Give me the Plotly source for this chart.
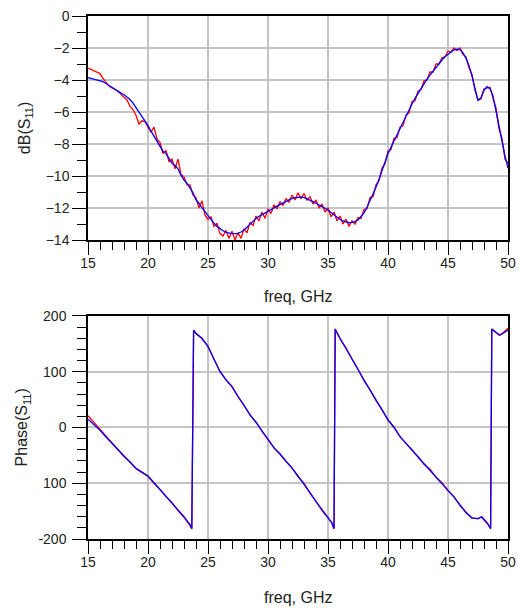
import plotly.graph_objects as go

# ---------------- data ----------------
freq_db = [15 + 0.25 * i for i in range(141)]

db_sim = [
    -3.85, -3.90, -3.95, -4.00, -4.05, -4.10, -4.22, -4.35, -4.48, -4.60,
    -4.72, -4.82, -4.92, -5.05, -5.22, -5.45, -5.72, -6.00, -6.28, -6.55,
    -6.85, -7.20, -7.50, -7.80, -8.15, -8.45, -8.60, -8.90, -9.20, -9.35,
    -9.55, -9.95, -10.25, -10.45, -10.75, -11.05, -11.50, -11.70, -12.00, -12.25,
    -12.50, -12.75, -12.95, -13.15, -13.30, -13.42, -13.52, -13.58, -13.60, -13.60,
    -13.58, -13.50, -13.38, -13.20, -13.00, -12.80, -12.65, -12.52, -12.42, -12.35,
    -12.25, -12.12, -12.00, -11.88, -11.78, -11.68, -11.55, -11.45, -11.40, -11.35,
    -11.32, -11.32, -11.35, -11.42, -11.50, -11.60, -11.70, -11.80, -11.92, -12.02,
    -12.12, -12.28, -12.42, -12.58, -12.72, -12.80, -12.88, -12.92, -12.90, -12.85,
    -12.75, -12.55, -12.30, -11.95, -11.55, -11.15, -10.70, -10.20, -9.65, -9.10,
    -8.60, -8.20, -7.80, -7.45, -7.10, -6.70, -6.30, -5.90, -5.50, -5.15,
    -4.85, -4.50, -4.22, -3.95, -3.70, -3.45, -3.20, -3.00, -2.75, -2.55,
    -2.38, -2.25, -2.12, -2.08, -2.10, -2.30, -2.65, -3.10, -3.75, -4.50,
    -5.30, -5.10, -4.65, -4.42, -4.55, -5.00, -6.00, -6.90, -7.85, -8.75,
    -9.50,
]

db_meas = [
    -3.25, -3.35, -3.42, -3.50, -3.60, -3.90, -4.15, -4.38, -4.50, -4.62,
    -4.70, -4.90, -5.10, -5.25, -5.65, -5.85, -6.20, -6.75, -6.55, -6.60,
    -6.95, -7.25, -6.95, -7.70, -7.90, -8.60, -8.40, -9.10, -8.95, -9.55,
    -8.95, -9.90, -10.05, -10.55, -10.55, -11.20, -11.35, -12.00, -11.55, -12.45,
    -12.70, -12.55, -13.15, -12.95, -13.60, -13.75, -13.40, -13.90, -13.45, -14.00,
    -13.55, -13.90, -13.30, -13.55, -12.90, -13.10, -12.50, -12.80, -12.25, -12.65,
    -12.05, -12.35, -11.80, -12.05, -11.60, -11.85, -11.40, -11.65, -11.20, -11.50,
    -11.05, -11.40, -11.10, -11.50, -11.30, -11.75, -11.50, -12.00, -11.75, -12.25,
    -12.00, -12.55, -12.25, -12.80, -12.50, -13.00, -12.70, -13.15, -12.80, -13.00,
    -12.60, -12.65, -12.10, -12.05, -11.35, -11.30, -10.55, -10.30, -9.50, -9.25,
    -8.45, -8.35, -7.65, -7.60, -6.95, -6.85, -6.20, -6.05, -5.35, -5.30,
    -4.70, -4.60, -4.05, -4.00, -3.50, -3.50, -3.00, -3.00, -2.60, -2.55,
    -2.20, -2.25, -2.00, -2.15, -2.00, -2.40, -2.55, -3.25, -3.65, -4.65,
    -5.20, -5.20, -4.55, -4.50, -4.45, -5.15, -5.75, -7.05, -7.65, -8.95,
    -9.20,
]

freq_ph = [
    15.0, 15.5, 16.0, 16.5, 17.0, 17.5, 18.0, 18.5, 19.0, 19.5,
    20.0, 20.5, 21.0, 21.5, 22.0, 22.5, 23.0, 23.5, 23.65, 23.8,
    24.0, 24.5, 25.0, 25.5, 26.0, 26.5, 27.0, 27.5, 28.0, 28.5,
    29.0, 29.5, 30.0, 30.5, 31.0, 31.5, 32.0, 32.5, 33.0, 33.5,
    34.0, 34.5, 35.0, 35.3, 35.5, 35.6, 36.0, 36.5, 37.0, 37.5,
    38.0, 38.5, 39.0, 39.5, 40.0, 40.5, 41.0, 41.5, 42.0, 42.5,
    43.0, 43.5, 44.0, 44.5, 45.0, 45.5, 46.0, 46.5, 47.0, 47.5,
    47.8, 48.0, 48.3, 48.55, 48.65, 49.0, 49.3, 49.6, 50.0,
]

ph_sim = [
    15, 5, -5, -17, -29, -40, -51, -62, -73, -80,
    -87, -99, -111, -123, -136, -148, -160, -174, -181, 174,
    169, 160, 145, 123, 100, 86, 73, 56, 39, 23,
    9, -6, -22, -36, -48, -60, -73, -87, -101, -117,
    -133, -148, -163, -170, -181, 176, 160, 142, 124, 104,
    85, 67, 49, 31, 14, 0, -16, -29, -40, -53,
    -65, -76, -88, -100, -112, -125, -139, -153, -162, -164,
    -160, -165, -172, -181, 176, 171, 166, 169, 175,
]

ph_meas = [
    21, 9, -3, -16, -29, -41, -52, -62, -74, -81,
    -88, -100, -111, -124, -135, -149, -161, -176, -182, 175,
    168, 159, 146, 122, 101, 85, 74, 55, 40, 22,
    10, -7, -21, -37, -47, -61, -72, -88, -100, -118,
    -132, -149, -162, -171, -182, 177, 159, 143, 123, 105,
    84, 68, 48, 32, 13, 1, -17, -28, -41, -52,
    -66, -75, -89, -99, -113, -124, -140, -152, -163, -163,
    -161, -166, -173, -182, 177, 170, 165, 170, 178,
]

db_ticks = [0, -2, -4, -6, -8, -10, -12, -14]
ph_tickvals = [200, 100, 0, -100, -200]
ph_ticktext = ["200", "100", "0", "100", "-200"]
freq_ticks = [15, 20, 25, 30, 35, 40, 45, 50]

# ---------------- figure ----------------
RED = "#ff0000"
BLUE = "#0000ff"
GRID = "#c4c4c4"
FONT = "Liberation Sans, Arial, sans-serif"

fig = go.Figure()
fig.add_trace(go.Scatter(x=freq_db, y=db_meas, mode="lines",
                         line=dict(color=RED, width=1.3), xaxis="x", yaxis="y"))
fig.add_trace(go.Scatter(x=freq_db, y=db_sim, mode="lines",
                         line=dict(color=BLUE, width=1.3), xaxis="x", yaxis="y"))
fig.add_trace(go.Scatter(x=freq_ph, y=ph_meas, mode="lines",
                         line=dict(color=RED, width=1.3), xaxis="x2", yaxis="y2"))
fig.add_trace(go.Scatter(x=freq_ph, y=ph_sim, mode="lines",
                         line=dict(color=BLUE, width=1.3), xaxis="x2", yaxis="y2"))

def xax(anchor):
    return dict(
        range=[15, 50], tickvals=freq_ticks, anchor=anchor, automargin=False,
        showgrid=True, gridcolor=GRID, gridwidth=1.5,
        showline=True, linecolor="black", linewidth=1.5, mirror=True,
        ticks="outside", ticklen=13, tickwidth=1.3, tickcolor="black",
        ticklabelstandoff=-4,
        minor=dict(dtick=1, ticks="outside", ticklen=8, tickwidth=1.2,
                   tickcolor="black", showgrid=False),
        tickfont=dict(family=FONT, size=14, color="#222222"),
        zeroline=False,
    )

def yax(anchor, rng, domain):
    return dict(
        range=rng, domain=domain, anchor=anchor, automargin=False,
        showgrid=True, gridcolor=GRID, gridwidth=1.5,
        showline=True, linecolor="black", linewidth=1.5, mirror=True,
        ticks="outside", ticklen=14, tickwidth=1.3, tickcolor="black",
        tickfont=dict(family=FONT, size=14, color="#222222"),
        zeroline=False,
    )

y1 = yax("x", [-14, 0], [0.5717, 1.0])
y1.update(tickvals=db_ticks,
          minor=dict(dtick=1, ticks="outside", ticklen=9, tickwidth=1.2,
                     tickcolor="black", showgrid=False))
y2 = yax("x2", [-200, 200], [0.0, 0.4264])
y2.update(tickvals=ph_tickvals, ticktext=ph_ticktext, ticklabelstandoff=3,
          minor=dict(dtick=20, ticks="outside", ticklen=9, tickwidth=1.2,
                     tickcolor="black", showgrid=False))

ann_font = dict(family=FONT, size=16, color="#222222")
fig.update_layout(
    width=518, height=610,
    margin=dict(l=88, r=10, t=16, b=71, autoexpand=False),
    paper_bgcolor="white", plot_bgcolor="white",
    showlegend=False,
    xaxis=xax("y"), yaxis=y1,
    xaxis2=xax("y2"), yaxis2=y2,
    annotations=[
        dict(text="freq, GHz", x=0.5, y=0.4646, xref="paper", yref="paper",
             showarrow=False, font=ann_font, xanchor="center", yanchor="middle"),
        dict(text="freq, GHz", x=0.5, y=-0.1109, xref="paper", yref="paper",
             showarrow=False, font=ann_font, xanchor="center", yanchor="middle"),
        dict(text="dB(S<sub>11</sub>)", x=-0.15, y=0.7855, xref="paper", yref="paper",
             showarrow=False, font=ann_font, textangle=-90,
             xanchor="center", yanchor="middle"),
        dict(text="Phase(S<sub>11</sub>)", x=-0.155, y=0.2132, xref="paper", yref="paper",
             showarrow=False, font=ann_font, textangle=-90,
             xanchor="center", yanchor="middle"),
    ],
)

fig.write_html(
    "out.html",
    config={"displayModeBar": False},
    post_script="document.body.style.margin='0px';document.body.style.overflow='hidden';",
)
